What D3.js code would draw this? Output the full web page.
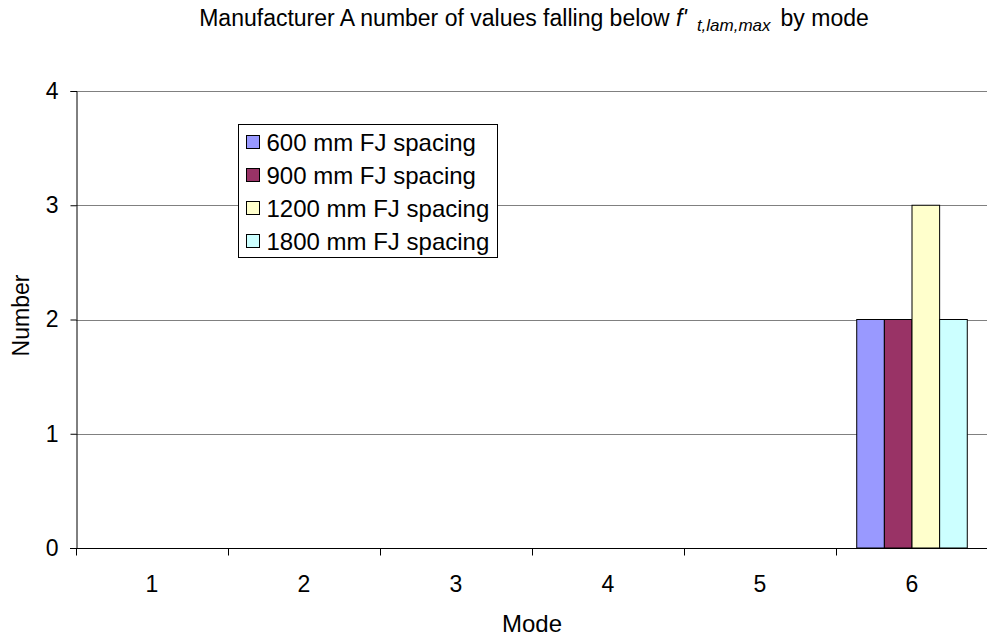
<!DOCTYPE html>
<html>
<head>
<meta charset="utf-8">
<script src="https://cdn.jsdelivr.net/npm/d3@7"></script>
<style>
  body { margin: 0; background: #fff; }
  svg text { font-family: "Liberation Sans", Arial, sans-serif; fill: #000; }
</style>
</head>
<body>
<div class="chart"></div>
<script>
// data
var modes = ['1', '2', '3', '4', '5', '6'];
var seriesNames = ['600 mm FJ spacing', '900 mm FJ spacing', '1200 mm FJ spacing', '1800 mm FJ spacing'];
var values600 = [0, 0, 0, 0, 0, 2];
var values900 = [0, 0, 0, 0, 0, 2];
var values1200 = [0, 0, 0, 0, 0, 3];
var values1800 = [0, 0, 0, 0, 0, 2];
var yTicks = [0, 1, 2, 3, 4];
var colors = ['#9999ff', '#993366', '#ffffcc', '#ccffff'];

var width = 987;
var height = 636;
var margin = { top: 91, right: -1, bottom: 88, left: 76 };

var seriesValues = [values600, values900, values1200, values1800];

var svg = d3.select('.chart').append('svg')
  .attr('width', width)
  .attr('height', height);

var x0 = d3.scaleBand()
  .domain(modes)
  .range([margin.left, width - margin.right])
  .paddingInner(0)
  .paddingOuter(0);

var x1 = d3.scaleBand()
  .domain(seriesNames)
  .range([0, x0.bandwidth()])
  .paddingInner(0)
  .paddingOuter(0.75);

var y = d3.scaleLinear()
  .domain([0, 4])
  .range([height - margin.bottom, margin.top]);

var plotCenter = (margin.left + width - margin.right) / 2;

// gridlines
svg.append('g')
  .selectAll('line')
  .data(yTicks.slice(1))
  .enter().append('line')
  .attr('x1', margin.left)
  .attr('x2', width - margin.right)
  .attr('y1', function (d) { return Math.round(y(d)) + 0.5; })
  .attr('y2', function (d) { return Math.round(y(d)) + 0.5; })
  .attr('stroke', '#808080')
  .attr('stroke-width', 1);

// bars
var groups = svg.append('g')
  .selectAll('g')
  .data(modes)
  .enter().append('g')
  .attr('transform', function (d) { return 'translate(' + x0(d) + ',0)'; });

groups.selectAll('rect')
  .data(function (d, i) {
    return seriesNames.map(function (name, j) {
      return { name: name, value: seriesValues[j][i], color: colors[j] };
    });
  })
  .enter().append('rect')
  .filter(function (d) { return d.value > 0; })
  .attr('x', function (d) { return x1(d.name); })
  .attr('y', function (d) { return y(d.value); })
  .attr('width', x1.bandwidth())
  .attr('height', function (d) { return y(0) - y(d.value); })
  .attr('fill', function (d) { return d.color; })
  .attr('stroke', '#000')
  .attr('stroke-width', 1);

// axes
var yAxis = d3.axisLeft(y)
  .tickValues(yTicks)
  .tickSize(6)
  .tickPadding(12)
  .tickFormat(d3.format('d'));

var yg = svg.append('g')
  .attr('transform', 'translate(' + (margin.left + 0.5) + ',0)')
  .call(yAxis);
yg.select('.domain').attr('stroke', '#000');
yg.selectAll('.tick line').attr('stroke', '#000');
yg.selectAll('.tick text').style('font-size', '23px');

var xAxis = d3.axisBottom(x0)
  .tickSize(0)
  .tickPadding(27);

var xg = svg.append('g')
  .attr('transform', 'translate(0,' + (y(0) + 0.5) + ')')
  .call(xAxis);
xg.select('.domain').attr('stroke', '#000').attr('d', 'M' + (margin.left - 6) + ',0H' + (width - margin.right));
xg.selectAll('.tick text').style('font-size', '23px');

// category boundary ticks
xg.selectAll('.bound')
  .data(modes)
  .enter().append('line')
  .attr('class', 'bound')
  .attr('x1', function (d) { return Math.round(x0(d)) + 0.5; })
  .attr('x2', function (d) { return Math.round(x0(d)) + 0.5; })
  .attr('y1', 0)
  .attr('y2', 7)
  .attr('stroke', '#000');

// axis titles
svg.append('text')
  .attr('x', plotCenter)
  .attr('y', 632)
  .attr('text-anchor', 'middle')
  .style('font-size', '24px')
  .text('Mode');

svg.append('text')
  .attr('transform', 'translate(29,' + ((margin.top + height - margin.bottom) / 2 - 4) + ') rotate(-90)')
  .attr('text-anchor', 'middle')
  .style('font-size', '23px')
  .text('Number');

// title
var title = svg.append('text')
  .attr('x', plotCenter + 2)
  .attr('y', 26)
  .attr('text-anchor', 'middle')
  .style('font-size', '23px');
title.append('tspan').text('Manufacturer A number of values falling below ');
title.append('tspan').style('font-style', 'italic').text("f'");
title.append('tspan').style('font-style', 'italic').style('font-size', '17px')
  .attr('dx', 10).attr('dy', 5).text('t,lam,max');
title.append('tspan').attr('dx', 10).attr('dy', -5).text('by mode');

// legend
var legend = svg.append('g').attr('transform', 'translate(238.5,124.5)');
legend.append('rect')
  .attr('width', 259)
  .attr('height', 133)
  .attr('fill', '#fff')
  .attr('stroke', '#000');

var items = legend.selectAll('.item')
  .data(seriesNames)
  .enter().append('g')
  .attr('class', 'item')
  .attr('transform', function (d, i) { return 'translate(8,' + (18 + i * 33) + ')'; });

items.append('rect')
  .attr('x', 0)
  .attr('y', -7)
  .attr('width', 13)
  .attr('height', 13)
  .attr('fill', function (d, i) { return colors[i]; })
  .attr('stroke', '#000');

items.append('text')
  .attr('x', 20)
  .attr('dy', '0.35em')
  .style('font-size', '24px')
  .text(function (d) { return d; });
</script>
</body>
</html>
